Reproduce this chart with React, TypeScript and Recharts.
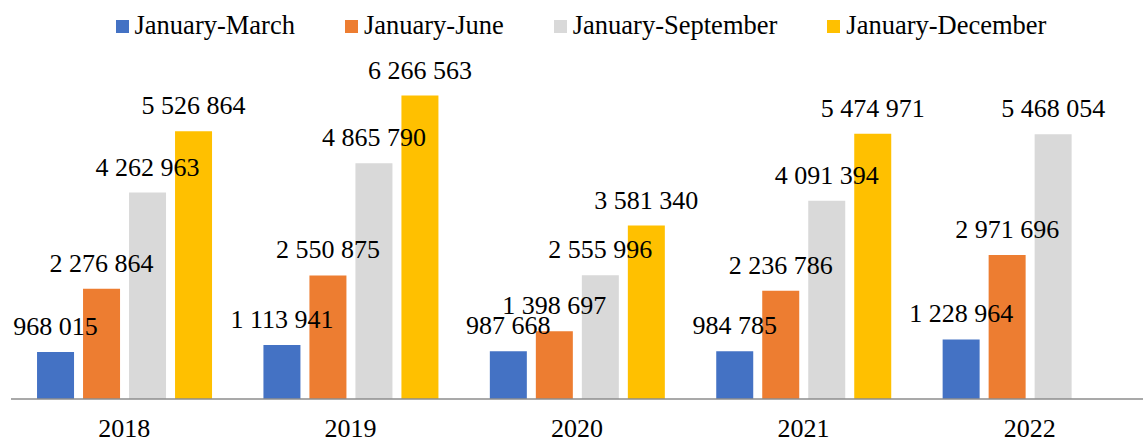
import { Bar, BarChart, LabelList, Legend, XAxis, YAxis } from 'recharts'

const years = ['2018', '2019', '2020', '2021', '2022']
const janMar = [968015, 1113941, 987668, 984785, 1228964]
const janJun = [2276864, 2550875, 1398697, 2236786, 2971696]
const janSep = [4262963, 4865790, 2555996, 4091394, 5468054]
const janDec = [5526864, 6266563, 3581340, 5474971, null]

const series = [
  { key: 'mar', name: 'January-March', color: '#4472C4', values: janMar },
  { key: 'jun', name: 'January-June', color: '#ED7D31', values: janJun },
  { key: 'sep', name: 'January-September', color: '#D9D9D9', values: janSep },
  { key: 'dec', name: 'January-December', color: '#FFC000', values: janDec },
]

const data = years.map((year, i) => {
  const row: Record<string, string | number | null> = { year }
  series.forEach((s) => {
    row[s.key] = s.values[i]
  })
  return row
})

const font = 'Times New Roman, Liberation Serif, serif'

const fmt = (v: any) =>
  v == null ? '' : String(v).replace(/\B(?=(\d{3})+(?!\d))/g, ' ')

function LegendBox() {
  return (
    <div
      style={{
        display: 'flex',
        justifyContent: 'center',
        gap: 50,
        height: 50,
        paddingTop: 2,
        paddingLeft: 8,
        boxSizing: 'border-box',
        fontFamily: font,
        fontSize: 26.5,
        lineHeight: '26px',
        color: '#000',
      }}
    >
      {series.map((s) => (
        <div key={s.key} style={{ display: 'flex', alignItems: 'flex-start', height: 26 }}>
          <span style={{ width: 13, height: 13, marginTop: 8, background: s.color, marginRight: 6 }} />
          <span>{s.name}</span>
        </div>
      ))}
    </div>
  )
}

function BarLabel(props: any) {
  const { x, y, width, value } = props
  if (value == null) return null
  return (
    <text
      x={x + width / 2}
      y={y - 17}
      textAnchor="middle"
      style={{ fill: '#000', fontSize: 26, fontFamily: font }}
    >
      {fmt(value)}
    </text>
  )
}

function YearTick(props: any) {
  const { x, y, payload } = props
  return (
    <text
      x={x}
      y={y + 36}
      textAnchor="middle"
      style={{ fill: '#000', fontSize: 26, fontFamily: font }}
    >
      {payload.value}
    </text>
  )
}

export default function App() {
  return (
    <div style={{ position: 'absolute', left: 0, top: 0, background: '#fff' }}>
      <BarChart
        width={1143}
        height={439}
        data={data}
        margin={{ top: 10, right: 0, bottom: 0, left: 11 }}
        barCategoryGap="11.5%"
        barGap={9}
      >
        <Legend verticalAlign="top" content={<LegendBox />} />
        <XAxis
          dataKey="year"
          height={40}
          tickLine={false}
          tickSize={0}
          axisLine={{ stroke: '#8C8C8C', strokeWidth: 1.5 }}
          tick={<YearTick />}
        />
        <YAxis hide domain={[0, 7000000]} />
        {series.map((s) => (
          <Bar key={s.key} dataKey={s.key} name={s.name} fill={s.color} isAnimationActive={false}>
            <LabelList dataKey={s.key} content={<BarLabel />} />
          </Bar>
        ))}
      </BarChart>
    </div>
  )
}
